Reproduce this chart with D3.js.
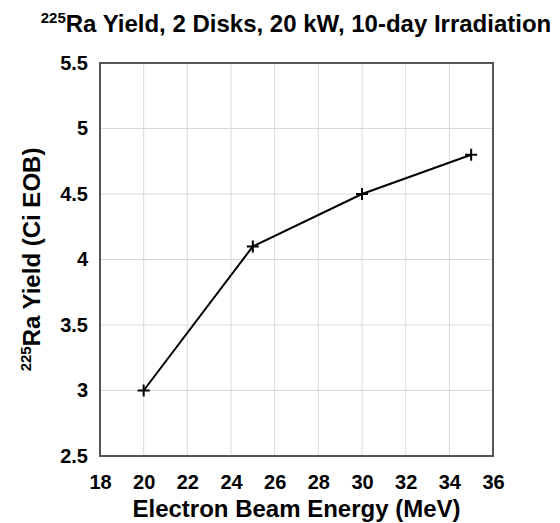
<!DOCTYPE html>
<html>
<head>
<meta charset="utf-8">
<script src="https://cdnjs.cloudflare.com/ajax/libs/d3/7.8.5/d3.min.js"></script>
<style>
  body { margin: 0; background: #fff; }
  text { font-family: "Liberation Sans", Arial, sans-serif; font-weight: bold; fill: #000; }
</style>
</head>
<body>
<svg id="chart" width="560" height="523"></svg>
<script>
// data
var energy = [20, 25, 30, 35];          // MeV
var yieldCi = [3.0, 4.1, 4.5, 4.8];     // Ci EOB
var xTicks = [18, 20, 22, 24, 26, 28, 30, 32, 34, 36];
var yTicks = [2.5, 3, 3.5, 4, 4.5, 5, 5.5];

var margin = {left: 100, top: 63, right: 67, bottom: 67};
var w = 560 - margin.left - margin.right,
    h = 523 - margin.top - margin.bottom;

var svg = d3.select("#chart");
var g = svg.append("g").attr("transform", "translate(" + margin.left + "," + margin.top + ")");

var x = d3.scaleLinear().domain([18, 36]).range([0, w]);
var y = d3.scaleLinear().domain([2.5, 5.5]).range([h, 0]);

// grid
g.selectAll(".gx").data(xTicks).enter().append("line")
    .attr("x1", function(d){ return x(d) }).attr("x2", function(d){ return x(d) })
    .attr("y1", 0).attr("y2", h)
    .style("stroke", "#d9d9d9").style("stroke-width", 1);
g.selectAll(".gy").data(yTicks).enter().append("line")
    .attr("y1", function(d){ return y(d) }).attr("y2", function(d){ return y(d) })
    .attr("x1", 0).attr("x2", w)
    .style("stroke", "#d9d9d9").style("stroke-width", 1);

// axes (labels only, frame drawn below)
var xAxis = g.append("g").attr("transform", "translate(0," + h + ")")
    .call(d3.axisBottom(x).tickValues(xTicks).tickSize(0).tickPadding(19).tickFormat(d3.format("d")));
var yAxis = g.append("g")
    .call(d3.axisLeft(y).tickValues(yTicks).tickSize(0).tickPadding(12).tickFormat(function(d){ return d; }));
[xAxis, yAxis].forEach(function(a){
    a.select(".domain").remove();
    a.selectAll("text").style("font-size", "20px").style("font-family", "Liberation Sans, Arial, sans-serif").style("font-weight", "bold").attr("fill", "#000");
});

// frame
g.append("rect").attr("x", 0).attr("y", 0).attr("width", w).attr("height", h)
    .style("fill", "none").style("stroke", "#555").style("stroke-width", 2);

// line
var line = d3.line().x(function(d){ return x(d[0]) }).y(function(d){ return y(d[1]) });
var pts = energy.map(function(e, i){ return [e, yieldCi[i]]; });
g.append("path").datum(pts).attr("d", line)
    .style("fill", "none").style("stroke", "#000").style("stroke-width", 2);

// + markers
g.selectAll(".mk").data(pts).enter().append("path")
    .attr("d", function(d){
        var cx = x(d[0]), cy = y(d[1]), s = 6;
        return "M" + (cx - s) + "," + cy + "H" + (cx + s) + "M" + cx + "," + (cy - s) + "V" + (cy + s);
    })
    .style("stroke", "#000").style("stroke-width", 2);

// title
var title = svg.append("text").attr("x", 296).attr("y", 32).attr("text-anchor", "middle").style("font-size", "24px");
title.append("tspan").text("225").style("font-size", "15px").attr("dy", "-9");
title.append("tspan").text("Ra Yield, 2 Disks, 20 kW, 10-day Irradiation").attr("dy", "9");

// x label
svg.append("text").attr("x", margin.left + w / 2).attr("y", 517).attr("text-anchor", "middle")
    .style("font-size", "24px").text("Electron Beam Energy (MeV)");

// y label
var yl = svg.append("text").attr("transform", "translate(40," + (margin.top + h / 2) + ") rotate(-90)")
    .attr("text-anchor", "middle").style("font-size", "24px");
yl.append("tspan").text("225").style("font-size", "15px").attr("dy", "-9");
yl.append("tspan").text("Ra Yield (Ci EOB)").attr("dy", "9");
</script>
</body>
</html>
